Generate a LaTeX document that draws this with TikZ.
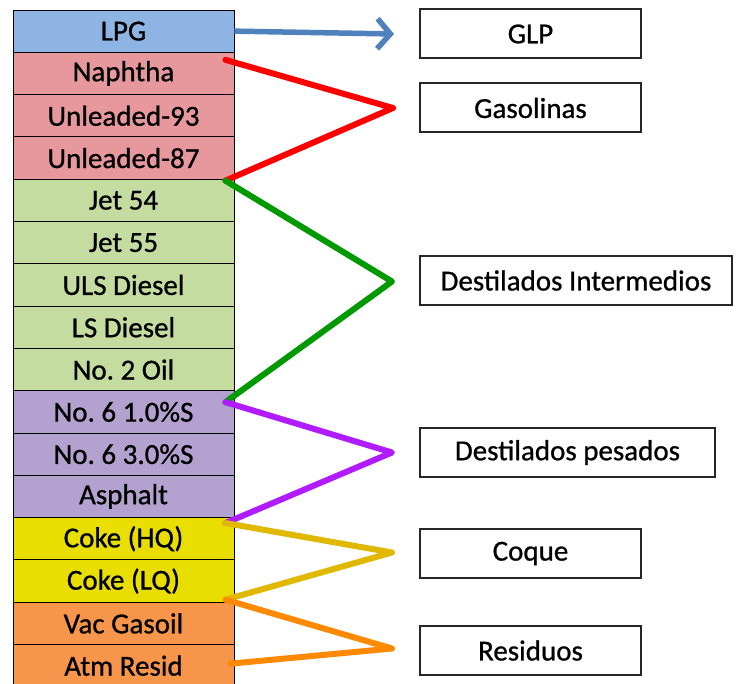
\documentclass[tikz,border=0pt]{standalone}
\usepackage{fontspec}
\setmainfont[FakeBold=0.8]{Carlito}
\frenchspacing
\usetikzlibrary{arrows.meta,calc}
\definecolor{cLPG}{HTML}{8DB4E2}
\definecolor{cRed}{HTML}{E6989C}
\definecolor{cGreen}{HTML}{C4DCA0}
\definecolor{cPurple}{HTML}{B3A2CF}
\definecolor{cYellow}{HTML}{E8DE00}
\definecolor{cOrange}{HTML}{F7964A}
\definecolor{lBlue}{HTML}{4F81BD}
\definecolor{lRed}{HTML}{FF0000}
\definecolor{lGreen}{HTML}{009A00}
\definecolor{lPurple}{HTML}{B01CFF}
\definecolor{lYellow}{HTML}{E0B800}
\definecolor{lOrange}{HTML}{FF8A00}
\tikzset{
  cell/.style={draw=black, line width=0.9pt, minimum width=221pt, minimum height=42.3pt,
    inner sep=0pt, font=\fontsize{29}{32}\selectfont, text=black},
  catbox/.style={draw=black!85, line width=2pt, minimum height=49pt, inner sep=0pt,
    font=\fontsize{29}{32}\selectfont, fill=white},
  link/.style={line width=6pt, line join=round, line cap=round},
}
\begin{document}
\begin{tikzpicture}[x=1pt,y=-1pt]
\useasboundingbox (0,0) rectangle (755,684);
\fill[white] (0,0) rectangle (755,684);
% column cells
\foreach \i/\nm/\txt/\col in {0/lpg/LPG/cLPG,1/nap/Naphtha/cRed,2/u93/Unleaded-93/cRed,3/u87/Unleaded-87/cRed,
  4/j54/Jet 54/cGreen,5/j55/Jet 55/cGreen,6/uls/ULS Diesel/cGreen,7/lsd/LS Diesel/cGreen,8/no2/No. 2 Oil/cGreen,
  9/n61/No. 6 1.0\%S/cPurple,10/n63/No. 6 3.0\%S/cPurple,11/asp/Asphalt/cPurple,
  12/chq/Coke (HQ)/cYellow,13/clq/Coke (LQ)/cYellow,14/vac/Vac Gasoil/cOrange,15/atm/Atm Resid/cOrange}
{
  \node[cell, fill=\col] (\nm) at (123.5, {10+42.3*(\i+0.5)}) {\txt};
}
% category boxes
\node[catbox, minimum width=221pt] (glp) at (530.5,34) {GLP};
\node[catbox, minimum width=221pt] (gas) at (530.5,108) {Gasolinas};
\node[catbox, minimum width=312pt] (din) at (576,280.5) {Destilados Intermedios};
\node[catbox, minimum width=295pt] (dpe) at (567.5,452.5) {Destilados pesados};
\node[catbox, minimum width=221pt] (coq) at (530.5,553.5) {Coque};
\node[catbox, minimum width=221pt] (res) at (530.5,650.5) {Residuos};
% apexes
\coordinate (aGas) at ($(gas.west)+(-26,0)$);
\coordinate (aDin) at ($(din.west)+(-27,1)$);
\coordinate (aDpe) at ($(dpe.west)+(-27,0)$);
\coordinate (aCoq) at ($(coq.west)+(-27,-1)$);
\coordinate (aRes) at ($(res.west)+(-27,-2)$);
% end points on column
\coordinate (p1) at ($(nap.north east)+(-9,8)$);
\coordinate (p2) at ($(u87.south east)+(-9,1)$);
\coordinate (p3) at ($(no2.south east)+(-9,11)$);
\coordinate (p4) at ($(asp.south east)+(-9,5)$);
\coordinate (p5) at ($(clq.south east)+(-9,-3)$);
\coordinate (p6) at ($(atm.east)+(-4,-2)$);
% connectors
\draw[lBlue, line width=5.5pt, -{Straight Barb[length=13pt,width=30pt,line width=5.5pt]}] (lpg.east) -- ($(glp.west)+(-25,0)$);
\draw[link, lRed] (p1) -- (aGas) -- (p2);
\draw[link, lGreen] (p2) -- (aDin) -- (p3);
\draw[link, lPurple] (p3) -- (aDpe) -- (p4);
\draw[link, lYellow] (p4) -- (aCoq) -- (p5);
\draw[link, lOrange] (p5) -- (aRes) -- (p6);
\end{tikzpicture}
\end{document}
